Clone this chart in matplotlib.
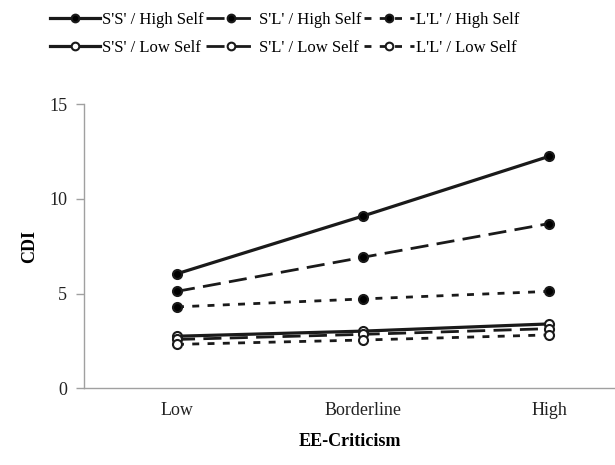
import matplotlib
matplotlib.use("Agg")
import matplotlib.pyplot as plt

plt.rcParams['font.family'] = ['Liberation Serif', 'DejaVu Serif']

categories = ['Low', 'Borderline', 'High']
ss_high = [6.05, 9.1, 12.25]
sl_high = [5.12, 6.92, 8.7]
ll_high = [4.3, 4.72, 5.12]
ss_low = [2.75, 3.02, 3.4]
sl_low = [2.58, 2.85, 3.15]
ll_low = [2.32, 2.55, 2.82]

series = [
    ("S'S' / High Self", ss_high, '-', 'black'),
    ("S'L' / High Self", sl_high, (0, (6.5, 3)), 'black'),
    ("L'L' / High Self", ll_high, (0, (2.5, 3)), 'black'),
    ("S'S' / Low Self", ss_low, '-', 'white'),
    ("S'L' / Low Self", sl_low, (0, (6.5, 3)), 'white'),
    ("L'L' / Low Self", ll_low, (0, (2.5, 3)), 'white'),
]

fig = plt.figure(figsize=(6.15, 4.65), dpi=100)
ax = fig.add_axes([84 / 615, 1 - 388.3 / 465, 1 - 84 / 615, 284 / 465])

x = range(len(categories))
lines = []
for label, vals, ls, face in series:
    lw = 2.3 if ls == '-' else 2.0
    ln, = ax.plot(x, vals, linestyle=ls, color='#1a1a1a', linewidth=lw,
                  marker='o', markersize=6.5, markerfacecolor=face,
                  markeredgecolor='#1a1a1a', markeredgewidth=1.5, label=label)
    lines.append(ln)

ax.set_ylim(0, 15)
ax.set_yticks([0, 5, 10, 15])
ax.set_xlim(-0.5, (615 - 84) / 186 - 0.5)
ax.set_xticks(list(x))
ax.set_xticklabels(categories)

for side in ['top', 'right']:
    ax.spines[side].set_visible(False)
for side in ['left', 'bottom']:
    ax.spines[side].set_color('#a0a0a0')
    ax.spines[side].set_linewidth(1.0)
ax.tick_params(axis='y', colors='#a0a0a0', labelcolor='#222222',
               labelsize=13, length=6, width=1.0, pad=6)
ax.tick_params(axis='x', length=0, labelsize=13, labelcolor='#222222', pad=10)

ax.set_ylabel('CDI', fontsize=13, fontweight='bold', labelpad=8)
ax.set_xlabel('EE-Criticism', fontsize=13, fontweight='bold', labelpad=10)

# legend fills column by column, so interleave high/low rows
order = [0, 3, 1, 4, 2, 5]
fig.legend([lines[i] for i in order], [series[i][0] for i in order],
           loc='upper left', bbox_to_anchor=(38 / 615, 1.0), ncol=3,
           frameon=False, fontsize=12, handlelength=3.0, handletextpad=0.15,
           columnspacing=0.15, labelspacing=0.75, borderaxespad=0.3,
           markerscale=0.85)

fig.savefig('out.png', dpi=100)
